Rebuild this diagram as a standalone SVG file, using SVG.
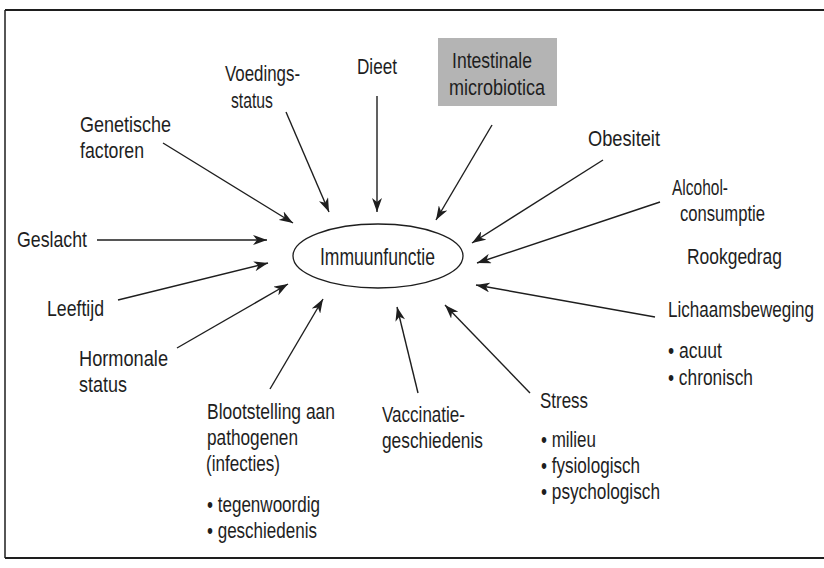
<svg xmlns="http://www.w3.org/2000/svg" width="824" height="568" viewBox="0 0 824 568">
<defs>
<style>
text{font-family:"Liberation Sans",Arial,sans-serif;font-size:22px;fill:#1e1e1e}
.c line{stroke:#1e1e1e;stroke-width:1.4;marker-end:url(#ah)}
.frame{stroke:#1e1e1e;fill:none}
</style>
<marker id="ah" viewBox="0 0 14 10" refX="14" refY="5" markerWidth="14" markerHeight="10" markerUnits="userSpaceOnUse" orient="auto">
<path d="M0,0 L14,5 L0,10 L4,5 z" fill="#1e1e1e"/>
</marker>
</defs>
<rect width="824" height="568" fill="#ffffff"/>
<g id="frame">
<line class="frame" x1="5" y1="10" x2="824" y2="10" stroke-width="2"/>
<line class="frame" x1="5" y1="10" x2="5" y2="558" stroke-width="1.5"/>
<line class="frame" x1="5" y1="558" x2="824" y2="558" stroke-width="2"/>
</g>
<g id="center">
<ellipse cx="378" cy="256" rx="85" ry="32" fill="none" stroke="#1e1e1e" stroke-width="1.3"/>
<text x="320" y="265" style="font-size:24px" textLength="115" lengthAdjust="spacingAndGlyphs">Immuunfunctie</text>
</g>
<g id="genetische">
<text x="80" y="132" textLength="91" lengthAdjust="spacingAndGlyphs">Genetische</text>
<text x="80" y="158" textLength="64" lengthAdjust="spacingAndGlyphs">factoren</text>
</g>
<g id="voedingsstatus">
<text x="225" y="81" textLength="75" lengthAdjust="spacingAndGlyphs">Voedings-</text>
<text x="231" y="108" textLength="42" lengthAdjust="spacingAndGlyphs">status</text>
</g>
<g id="dieet">
<text x="357" y="74" textLength="40" lengthAdjust="spacingAndGlyphs">Dieet</text>
</g>
<g id="microbiotica">
<rect x="438" y="38" width="119" height="68" fill="#b4b4b4"/>
<text x="452" y="68" textLength="80" lengthAdjust="spacingAndGlyphs">Intestinale</text>
<text x="449" y="95" textLength="96" lengthAdjust="spacingAndGlyphs">microbiotica</text>
</g>
<g id="obesiteit">
<text x="588" y="146" textLength="72" lengthAdjust="spacingAndGlyphs">Obesiteit</text>
</g>
<g id="alcohol">
<text x="672" y="195" textLength="56" lengthAdjust="spacingAndGlyphs">Alcohol-</text>
<text x="680" y="221" textLength="85" lengthAdjust="spacingAndGlyphs">consumptie</text>
</g>
<g id="rookgedrag">
<text x="687" y="264" textLength="95" lengthAdjust="spacingAndGlyphs">Rookgedrag</text>
</g>
<g id="lichaamsbeweging">
<text transform="translate(668,317) scale(0.775,1)" x="0" y="0">Lichaamsbeweging</text>
<text x="668" y="358" textLength="54" lengthAdjust="spacingAndGlyphs">• acuut</text>
<text x="668" y="385" textLength="85" lengthAdjust="spacingAndGlyphs">• chronisch</text>
</g>
<g id="stress">
<text x="540" y="408" textLength="48" lengthAdjust="spacingAndGlyphs">Stress</text>
<text x="541" y="447" textLength="55" lengthAdjust="spacingAndGlyphs">• milieu</text>
<text x="541" y="473" textLength="99" lengthAdjust="spacingAndGlyphs">• fysiologisch</text>
<text x="541" y="499" textLength="119" lengthAdjust="spacingAndGlyphs">• psychologisch</text>
</g>
<g id="vaccinatie">
<text x="382" y="422" textLength="83" lengthAdjust="spacingAndGlyphs">Vaccinatie-</text>
<text x="382" y="448" textLength="101" lengthAdjust="spacingAndGlyphs">geschiedenis</text>
</g>
<g id="blootstelling">
<text x="207" y="419" textLength="128" lengthAdjust="spacingAndGlyphs">Blootstelling aan</text>
<text x="207" y="445" textLength="91" lengthAdjust="spacingAndGlyphs">pathogenen</text>
<text x="206" y="471" textLength="74" lengthAdjust="spacingAndGlyphs">(infecties)</text>
<text x="207" y="512" textLength="113" lengthAdjust="spacingAndGlyphs">• tegenwoordig</text>
<text x="207" y="538" textLength="110" lengthAdjust="spacingAndGlyphs">• geschiedenis</text>
</g>
<g id="hormonale">
<text x="79" y="366" textLength="89" lengthAdjust="spacingAndGlyphs">Hormonale</text>
<text x="79" y="392" textLength="48" lengthAdjust="spacingAndGlyphs">status</text>
</g>
<g id="leeftijd">
<text x="47" y="316" textLength="57" lengthAdjust="spacingAndGlyphs">Leeftijd</text>
</g>
<g id="geslacht">
<text x="17" y="247" textLength="70" lengthAdjust="spacingAndGlyphs">Geslacht</text>
</g>
<g id="connectors" class="c">
<line x1="163" y1="143" x2="293" y2="223"/>
<line x1="286" y1="112" x2="329" y2="212"/>
<line x1="377" y1="96" x2="377" y2="212"/>
<line x1="492" y1="125" x2="436" y2="220"/>
<line x1="603" y1="160" x2="472" y2="243"/>
<line x1="660" y1="202" x2="477" y2="263"/>
<line x1="655" y1="317" x2="476" y2="285"/>
<line x1="530" y1="393" x2="445" y2="305"/>
<line x1="418" y1="393" x2="397" y2="307"/>
<line x1="270" y1="389" x2="323" y2="299"/>
<line x1="177" y1="348" x2="288" y2="284"/>
<line x1="118" y1="300" x2="268" y2="263"/>
<line x1="97" y1="240" x2="267" y2="240"/>
</g>
</svg>
